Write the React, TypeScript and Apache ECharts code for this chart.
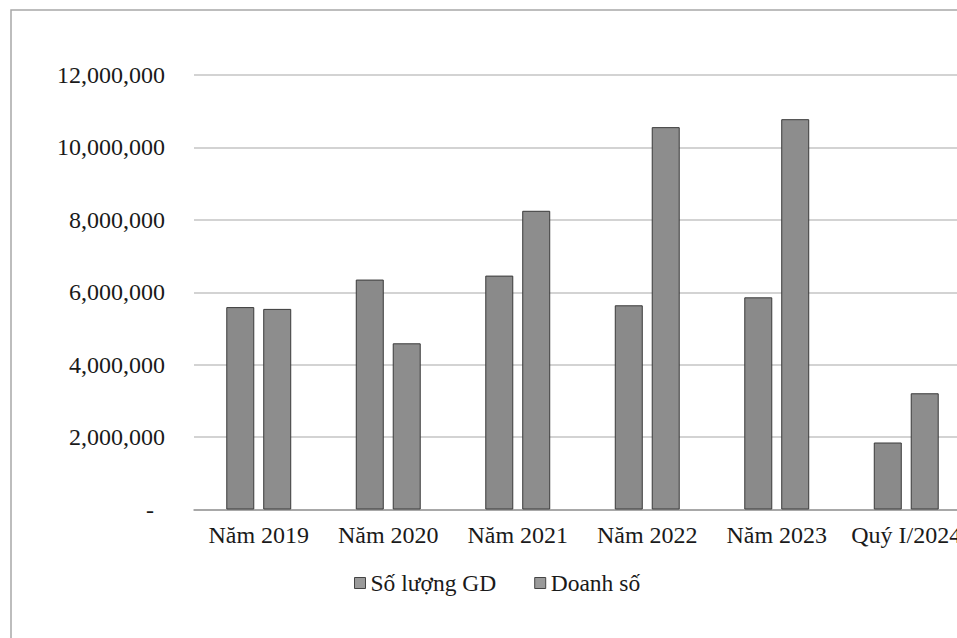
import React, { useEffect, useRef } from "react";
import * as echarts from "echarts";

const categories = ["Năm 2019", "Năm 2020", "Năm 2021", "Năm 2022", "Năm 2023", "Quý I/2024"];
const soLuongGD = [5590000, 6350000, 6460000, 5640000, 5860000, 1850000];
const doanhSo = [5540000, 4590000, 8250000, 10560000, 10780000, 3210000];
const seriesNames = ["Số lượng GD", "Doanh số"];

const FONT = "'Liberation Serif', 'Times New Roman', serif";

export default function App() {
  const ref = useRef<HTMLDivElement>(null);
  useEffect(() => {
    if (!ref.current) return;
    const chart = echarts.init(ref.current, null, { renderer: "svg" });
    const barStyle = (color: string) => ({
      color,
      borderColor: "#3a3a3a",
      borderWidth: 1,
    });
    chart.setOption({
      animation: false,
      backgroundColor: "#ffffff",
      textStyle: { fontFamily: FONT, color: "#1a1a1a" },
      graphic: [
        {
          type: "rect",
          shape: { x: 11, y: 10, width: 1200, height: 900 },
          style: { fill: "none", stroke: "#a8a8a8", lineWidth: 1.5 },
          silent: true,
        },
      ],
      grid: { left: 194, top: 75, right: 4, height: 434.5, containLabel: false },
      legend: {
        left: 349,
        top: 566,
        itemWidth: 11,
        itemHeight: 11,
        itemGap: 38,
        icon: "rect",
        formatter: "{t|{name}}",
        textStyle: {
          fontFamily: FONT,
          fontSize: 23.5,
          color: "#1a1a1a",
          rich: { t: { fontFamily: FONT, fontSize: 23.5, color: "#1a1a1a" } },
        },
        itemStyle: { color: "#9a9a9a", borderColor: "#444", borderWidth: 1 },
        data: seriesNames,
      },
      xAxis: {
        type: "category",
        data: categories,
        axisLine: { lineStyle: { color: "#9a9a9a", width: 1.5 } },
        axisTick: { show: false },
        axisLabel: { fontFamily: FONT, fontSize: 24, color: "#1a1a1a", margin: 13, interval: 0 },
      },
      yAxis: {
        type: "value",
        min: 0,
        max: 12000000,
        interval: 2000000,
        axisLine: { show: false },
        axisTick: { show: false },
        splitLine: { lineStyle: { color: "#c4c4c4", width: 1.5 } },
        axisLabel: {
          fontFamily: FONT,
          fontSize: 24,
          color: "#1a1a1a",
          margin: 29,
          formatter: (v: number) =>
            v === 0 ? "{z|-}" : v.toLocaleString("en-US"),
          rich: { z: { fontFamily: FONT, fontSize: 24, color: "#1a1a1a", padding: [0, 11, 0, 0] } },
        },
      },
      series: [
        {
          name: seriesNames[0],
          type: "bar",
          data: soLuongGD,
          barWidth: 28,
          barGap: "32%",
          itemStyle: barStyle("#8a8a8a"),
        },
        {
          name: seriesNames[1],
          type: "bar",
          data: doanhSo,
          barWidth: 28,
          barGap: "32%",
          itemStyle: barStyle("#8d8d8d"),
        },
      ],
    });
    return () => chart.dispose();
  }, []);
  return (
    <div
      style={{ position: "fixed", left: 0, top: 0, width: 957, height: 638, overflow: "hidden" }}
    >
      <div ref={ref} style={{ width: 975, height: 638 }} />
    </div>
  );
}
